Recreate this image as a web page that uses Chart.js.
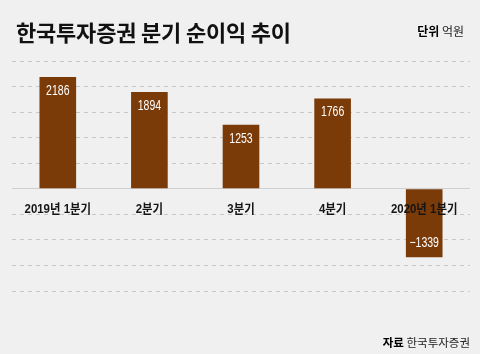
<!DOCTYPE html>
<html>
<head>
<meta charset="utf-8">
<script src="https://cdn.jsdelivr.net/npm/chart.js@4"></script>
<style>
  body { margin: 0; background: #f0f0f0; }
  #wrap { position: relative; width: 480px; height: 354px; overflow: hidden; }
  canvas { position: absolute; left: 0; top: 0; }
  .title { position: absolute; left: 16px; top: 15px; font: bold 22px "Noto Sans CJK KR", sans-serif; color: #111; letter-spacing: -0.2px; }
  .unit { position: absolute; right: 16px; top: 22px; font: 12px "Noto Sans CJK KR", sans-serif; color: #222; }
  .source { position: absolute; right: 10px; top: 334px; font: 11.5px "Noto Sans CJK KR", sans-serif; color: #222; }
  b { font-weight: bold; color: #000; }
</style>
</head>
<body>
<div id="wrap">
  <canvas id="profitChart" width="480" height="354"></canvas>
  <div class="title">한국투자증권 분기 순이익 추이</div>
  <div class="unit"><b>단위</b> 억원</div>
  <div class="source"><b>자료</b> 한국투자증권</div>
</div>
<script>
const quarters = ['2019년 1분기', '2분기', '3분기', '4분기', '2020년 1분기'];
const netProfit = [2186, 1894, 1253, 1766, -1339];
const yMin = -2000, yMax = 2500, yStep = 500;

// draws text squeezed horizontally (the original uses a condensed face)
function narrowText(ctx, txt, x, y, sx) {
    ctx.save();
    ctx.translate(x, y);
    ctx.scale(sx, 1);
    ctx.fillText(txt, 0, 0);
    ctx.restore();
}

// value labels inside bars + category labels under the zero line
const labelPlugin = {
    id: 'labels',
    afterDatasetsDraw(chart) {
        const ctx = chart.ctx;
        const meta = chart.getDatasetMeta(0);
        const zeroY = chart.scales.y.getPixelForValue(0);
        ctx.save();
        ctx.textAlign = 'center';
        ctx.textBaseline = 'middle';
        meta.data.forEach((bar, i) => {
            let v = netProfit[i];
            ctx.fillStyle = '#ffffff';
            ctx.font = '14px "Liberation Sans", sans-serif';
            let txt = v < 0 ? '\u2212' + Math.abs(v) : String(v);
            narrowText(ctx, txt, bar.x, v >= 0 ? bar.y + 14 : bar.y - 14, 0.75);
            ctx.fillStyle = '#151515';
            ctx.font = 'bold 13px "Liberation Sans", "Noto Sans CJK KR", sans-serif';
            narrowText(ctx, quarters[i], bar.x, zeroY + 21, 0.88);
        });
        ctx.restore();
    }
};

new Chart(document.getElementById('profitChart').getContext('2d'), {
    type: 'bar',
    data: {
        labels: quarters,
        datasets: [{
            data: netProfit,
            backgroundColor: '#7b3b08',
            borderWidth: 0,
            barPercentage: 0.4,
            categoryPercentage: 1
        }]
    },
    options: {
        responsive: false,
        animation: false,
        layout: { padding: { left: 12, right: 10, top: 61, bottom: 63 } },
        plugins: { legend: { display: false }, tooltip: { enabled: false } },
        scales: {
            x: { display: false },
            y: {
                min: yMin, max: yMax,
                ticks: { display: false, stepSize: yStep },
                border: {
                    display: false,
                    dash: c => (c.tick && c.tick.value === 0) ? [] : [4, 4]
                },
                grid: {
                    drawTicks: false,
                    color: c => (c.tick && c.tick.value === 0) ? '#cfcfcf' : '#c8c8c8',
                    lineWidth: 1
                }
            }
        }
    },
    plugins: [labelPlugin]
});
</script>
</body>
</html>
